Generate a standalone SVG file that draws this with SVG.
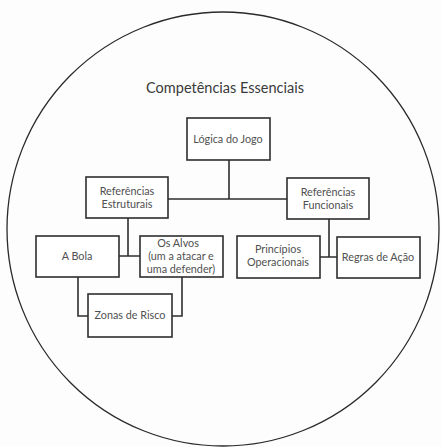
<svg xmlns="http://www.w3.org/2000/svg" width="441" height="447" viewBox="0 0 441 447">
<style>
.bg{fill:#fdfdfd}
.node rect{fill:#ffffff;stroke:#2e2e2e;stroke-width:1.6}
.node text{font-family:Lato,"Liberation Sans",sans-serif;font-size:10.8px;fill:#505050;text-anchor:middle}
.title{font-family:Lato,"Liberation Sans",sans-serif;font-size:14.5px;fill:#3a3a3a;text-anchor:middle}
#connectors path{fill:none;stroke:#2e2e2e;stroke-width:1.6}
.ring{fill:none;stroke:#2a2a2a;stroke-width:1.3}
</style>
<rect class="bg" x="0" y="0" width="441" height="447"/>
<ellipse class="ring" cx="223" cy="229" rx="216" ry="217"/>
<text class="title" x="225" y="93">Competências Essenciais</text>
<g id="connectors">
<path d="M229 160 V199 M168 199 H287"/>
<path d="M128 218 V256 M119 256 H140"/>
<path d="M78 277 V316 H88 M182 277 V316 H172"/>
<path d="M329 219 V257 M320 257 H337"/>
</g>
<g id="logica" class="node"><rect x="187" y="118" width="83" height="42"/><text x="228" y="142.5">Lógica do Jogo</text></g>
<g id="estruturais" class="node"><rect x="86" y="177" width="82" height="41"/><text x="127" y="195">Referências</text><text x="127" y="208">Estruturais</text></g>
<g id="funcionais" class="node"><rect x="287" y="178" width="82" height="41"/><text x="328" y="196">Referências</text><text x="328" y="209">Funcionais</text></g>
<g id="bola" class="node"><rect x="36" y="236" width="83" height="41"/><text x="77" y="260">A Bola</text></g>
<g id="alvos" class="node"><rect x="140" y="236" width="83" height="41"/><text x="178" y="247">Os Alvos</text><text x="181" y="260">(um a atacar e</text><text x="181" y="272.5">uma  defender)</text></g>
<g id="zonas" class="node"><rect x="88" y="294" width="84" height="43"/><text x="130" y="319">Zonas de Risco</text></g>
<g id="principios" class="node"><rect x="237" y="236" width="83" height="42"/><text x="278" y="253">Princípios</text><text x="278" y="266">Operacionais</text></g>
<g id="regras" class="node"><rect x="337" y="237" width="83" height="41"/><text x="378" y="261">Regras de Ação</text></g>
</svg>
